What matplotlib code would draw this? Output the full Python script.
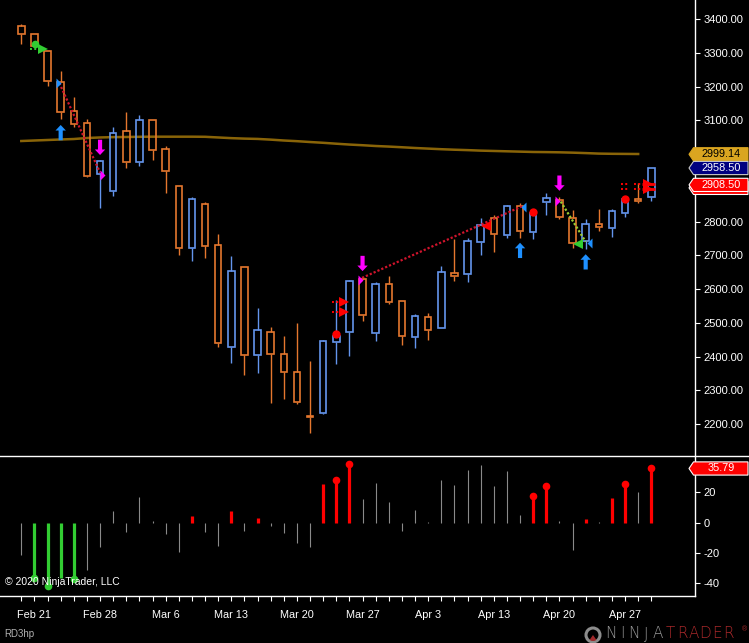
import matplotlib
matplotlib.use("Agg")
import matplotlib.pyplot as plt
from matplotlib.lines import Line2D
from matplotlib.patches import Polygon, Circle, Wedge
from matplotlib.transforms import IdentityTransform

W, H = 749, 643

plt.rcParams["font.family"] = ["Liberation Sans", "DejaVu Sans"]
plt.rcParams["axes.unicode_minus"] = False

# x labels (bar index -> label)
LABEL_BARS = [1, 6, 11, 16, 21, 26, 31, 36, 41, 46]
DATE_LABELS = ["Feb 21", "Feb 28", "Mar 6", "Mar 13", "Mar 20",
               "Mar 27", "Apr 3", "Apr 13", "Apr 20", "Apr 27"]

# price axis labels (2900 / 3000 sit under the price tags)
PRICE_TICKS = [2200, 2300, 2400, 2500, 2600, 2700, 2800, 3100, 3200, 3300, 3400]
OSC_TICKS = [-40, -20, 0, 20]

# daily OHLC, Feb 20 .. Apr 29 (49 sessions)
opens = [3378, 3355, 3304, 3212, 3127, 3091, 2940, 2891, 3067, 2977,
         3100, 3014, 2904, 2722, 2851, 2729, 2429, 2664, 2405, 2472,
         2406, 2353, 2223, 2234, 2444, 2473, 2630, 2469, 2614, 2564,
         2459, 2516, 2485, 2647, 2644, 2738, 2809, 2760, 2845, 2768,
         2859, 2863, 2809, 2743, 2792, 2780, 2824, 2868, 2873]
highs = [3384, 3357, 3304, 3246, 3169, 3104, 2982, 3080, 3124, 3116,
         3102, 3024, 2905, 2873, 2857, 2763, 2698, 2665, 2544, 2487,
         2461, 2499, 2387, 2449, 2567, 2626, 2635, 2620, 2639, 2565,
         2526, 2529, 2668, 2748, 2750, 2810, 2818, 2848, 2854, 2830,
         2884, 2873, 2833, 2807, 2837, 2836, 2870, 2913, 2960]
lows = [3327, 3316, 3202, 3105, 3079, 2932, 2841, 2876, 2959, 2965,
        2983, 2885, 2702, 2684, 2693, 2429, 2382, 2346, 2352, 2263,
        2275, 2259, 2174, 2230, 2379, 2402, 2506, 2447, 2556, 2435,
        2426, 2450, 2483, 2625, 2622, 2702, 2711, 2752, 2751, 2747,
        2820, 2806, 2721, 2719, 2773, 2755, 2814, 2854, 2862]
closes = [3355, 3320, 3215, 3125, 3088, 2936, 2978, 3061, 2977, 3100,
          3011, 2951, 2722, 2866, 2728, 2439, 2652, 2404, 2478, 2408,
          2355, 2266, 2220, 2445, 2461, 2623, 2522, 2614, 2562, 2460,
          2519, 2479, 2649, 2639, 2742, 2789, 2762, 2845, 2771, 2826,
          2869, 2812, 2735, 2792, 2783, 2830, 2866, 2862, 2958.5]

# 200-day SMA (drawn through bar 47)
sma = [3038.5, 3040, 3041.5, 3043, 3044.4, 3047.4, 3049, 3050, 3050.4, 3051,
       3051.3, 3051.3, 3051.3, 3051.3, 3051, 3049, 3047, 3045.6, 3044.7, 3042.6,
       3040, 3038, 3035.5, 3033.2, 3030.5, 3028, 3026, 3023.7, 3022, 3020,
       3017.8, 3016, 3014.2, 3012.7, 3011.5, 3010, 3009, 3008, 3007, 3006,
       3005.6, 3005, 3004, 3002.7, 3001.2, 3000.6, 3000.3, 3000]

# lower oscillator
osc = [-21.1, -36.3, -41.8, -36.3, -37, -31.2, -15.8, 7.7, -6.2, 17,
       1, -7.3, -19.1, 4.4, -6.2, -15.2, 7.7, -5.3, 3.1, -2.2,
       -6.6, -13.2, -15.8, 25.7, 28.4, 38.9, 15.6, 26.4, 13.7, -5.3,
       8.4, 0.3, 28.2, 25.1, 34.8, 38.1, 24.2, 34.1, 5.1, 17.8,
       24.4, 1, -18, 2.4, 0.5, 16.5, 25.7, 20.5, 35.79]
osc_red = [13, 16, 18, 23, 24, 25, 39, 40, 43, 45, 46, 48]
osc_green = [1, 2, 3, 4]
osc_dots = [1, 2, 4, 24, 25, 39, 40, 46, 48]

# signal markers (bar position, price)
up_arrows = [(3, 3086), (38, 2737), (43, 2703)]
down_arrows = [(6, 2997), (26, 2653), (41, 2891)]
small_right_blue = [(2.65, 3210)]
small_right_magenta = [(6.0, 2939), (25.66, 2628), (40.66, 2861)]
small_left_blue = [(38.07, 2843), (43.1, 2736)]
big_right_green = [(1.65, 3311)]
big_right_red = [(24.62, 2561), (24.62, 2532), (47.75, 2910), (47.75, 2897)]
big_left_red = [(35.41, 2788)]
big_left_green = [(42.41, 2734)]
red_dots = [(24, 2467), (39, 2828), (46, 2867)]
green_dots = [(1.02, 3327)]
stub_green = [(1, 3310)]
stub_red = [(24, 2561), (24, 2532), (46, 2910), (46, 2897), (47, 2910), (47, 2897)]
flag_red = [(48, 2910), (48, 2897)]
trend_red = [[(2.9, 3210), (6.0, 2945)], [(25.96, 2633), (38.2, 2846)]]
trend_green = [[(41.1, 2859), (43.0, 2740)]]

# right-hand price tags
tag_sma = 2999.14
tag_close = 2958.50
tag_stop = 2908.50
tag_osc = 35.79

BLUE = "#6495ED"
ORANGE = "#E5772E"
RED = "#FF0000"
MAGENTA = "#FF00FF"
ARROW_BLUE = "#1E90FF"
GREEN = "#32CD32"


def py(y):
    return 1 - y / H


def price_tag(fig, ydisp, text, face, tcolor, edge):
    h = 6.6
    verts = [(689, ydisp), (693.5, ydisp + h), (748, ydisp + h),
             (748, ydisp - h), (693.5, ydisp - h)]
    fig.add_artist(Polygon(verts, closed=True, transform=IdentityTransform(),
                           facecolor=face, edgecolor=edge, lw=0.8, zorder=5))
    if text:
        fig.text(721 / W, ydisp / H, text, ha="center", va="center",
                 color=tcolor, fontsize=7.8, zorder=6)


def main():
    fig = plt.figure(figsize=(W / 100, H / 100), dpi=100, facecolor="black")
    ax = fig.add_axes([0, py(456), 695 / W, 456 / H], facecolor="black")
    ax2 = fig.add_axes([0, py(596), 695 / W, 140 / H], facecolor="black")

    n = len(closes)
    for a in (ax, ax2):
        a.set_xlim(-1.623, 51.33)
        for s in a.spines.values():
            s.set_visible(False)
    ax.set_ylim(2105.2, 3456.3)
    ax2.set_ylim(-48.38, 44.03)

    # candles (hollow)
    for i in range(n):
        o, h, l, c = opens[i], highs[i], lows[i], closes[i]
        col = BLUE if c >= o else ORANGE
        top, bot = max(o, c), min(o, c)
        ax.bar(i, max(top - bot, 1.5), bottom=bot, width=0.5, fill=False,
               edgecolor=col, lw=1.2, zorder=2)
        if h > top:
            ax.vlines(i, top, h, color=col, lw=1.0, zorder=2)
        if l < bot:
            ax.vlines(i, l, bot, color=col, lw=1.0, zorder=2)

    ax.plot(range(len(sma)), sma, color="#B8860B", alpha=0.75, lw=1.8, zorder=1)

    # trend lines
    for seg in trend_red:
        ax.plot([p[0] for p in seg], [p[1] for p in seg], color="#D0142C",
                lw=1.6, ls=(0, (1, 0.9)), zorder=3)
    for seg in trend_green:
        ax.plot([p[0] for p in seg], [p[1] for p in seg], color="#9ACD32",
                lw=1.6, ls=(0, (1, 0.9)), zorder=3)

    # arrows
    aprops = dict(arrowstyle="simple,head_length=0.4,head_width=0.75,tail_width=0.3",
                  shrinkA=0, shrinkB=0, lw=0, mutation_scale=10)
    for b, p in up_arrows:
        ax.annotate("", xy=(b, p), xytext=(0, -11), textcoords="offset points",
                    arrowprops=dict(aprops, color=ARROW_BLUE), zorder=4)
    for b, p in down_arrows:
        ax.annotate("", xy=(b, p), xytext=(0, 11), textcoords="offset points",
                    arrowprops=dict(aprops, color=MAGENTA), zorder=4)

    # small half triangles
    right_small = [(0, -1), (0, 1), (1, 0), (0, -1)]
    left_small = [(0, 0), (1, 1), (1, -1), (0, 0)]
    for pts, m, col in [(small_right_blue, right_small, ARROW_BLUE),
                        (small_right_magenta, right_small, MAGENTA),
                        (small_left_blue, left_small, ARROW_BLUE)]:
        ax.plot([p[0] for p in pts], [p[1] for p in pts], ls="none", marker=m,
                ms=7.2, color=col, mec=col, mew=0, zorder=4)

    # stubs before signal triangles
    for pts, col in [(stub_green, GREEN), (stub_red, RED)]:
        for b, p in pts:
            ax.hlines(p, b - 0.3, b + 0.25, colors=col, lw=1.4,
                      linestyles=(0, (1, 1.2)), zorder=3)
    for b, p in flag_red:
        ax.hlines(p, b - 0.7, b + 0.3, colors=RED, lw=2.0, zorder=4)

    # big triangles
    for pts, m, col in [(big_right_green, ">", GREEN), (big_right_red, ">", RED),
                        (big_left_red, "<", RED), (big_left_green, "<", GREEN)]:
        ax.plot([p[0] for p in pts], [p[1] for p in pts], ls="none", marker=m,
                ms=7.5, color=col, mew=0, zorder=4)

    # dots
    ax.plot([p[0] for p in red_dots], [p[1] for p in red_dots], "o", ms=6,
            color=RED, mew=0, zorder=5)
    ax.plot([p[0] for p in green_dots], [p[1] for p in green_dots], "o", ms=5.5,
            color=GREEN, mew=0, zorder=5)

    # oscillator
    for i, v in enumerate(osc):
        if i in osc_red:
            ax2.vlines(i, 0, v, colors=RED, lw=2.3)
        elif i in osc_green:
            ax2.vlines(i, 0, v, colors=GREEN, lw=2.3)
        else:
            ax2.vlines(i, 0, v, colors="#8A8A8A", lw=0.8)
        if i in osc_dots:
            ax2.plot(i, v, "o", ms=5.5, mew=0,
                     color=GREEN if i in osc_green else RED)

    # axes ticks
    ax.yaxis.tick_right()
    ax.set_yticks(PRICE_TICKS)
    ax.set_yticklabels([f"{v:.2f}" for v in PRICE_TICKS])
    ax.set_xticks([])
    ax.tick_params(axis="y", colors="white", length=3.6, width=0.8, pad=2.5,
                   labelsize=8)

    ax2.yaxis.tick_right()
    ax2.set_yticks(OSC_TICKS)
    ax2.tick_params(axis="y", colors="white", length=3.6, width=0.8, pad=2.5,
                    labelsize=8)
    ax2.set_xticks(range(n))
    xl = [""] * n
    for b, lab in zip(LABEL_BARS, DATE_LABELS):
        xl[b] = lab
    ax2.set_xticklabels(xl)
    ax2.tick_params(axis="x", colors="white", length=3.8, width=0.8, pad=6,
                    labelsize=7.8)

    # frame lines
    fig.add_artist(Line2D([0, 1], [py(456), py(456)], transform=fig.transFigure,
                          color="white", lw=1))
    fig.add_artist(Line2D([0, 695 / W], [py(596), py(596)], transform=fig.transFigure,
                          color="white", lw=1))
    fig.add_artist(Line2D([695 / W, 695 / W], [py(596), 1], transform=fig.transFigure,
                          color="white", lw=1))

    # price tags
    yd = lambda a, v: a.transData.transform((0, v))[1]
    price_tag(fig, yd(ax, tag_sma), f"{tag_sma:.2f}", "#DAA520", "black", "#DAA520")
    price_tag(fig, yd(ax, tag_close), f"{tag_close:.2f}", "#000080", "white", "#C8C8C8")
    price_tag(fig, yd(ax, tag_stop) - 3, "", RED, "white", "white")
    price_tag(fig, yd(ax, tag_stop), f"{tag_stop:.2f}", RED, "white", "white")
    price_tag(fig, yd(ax2, tag_osc), f"{tag_osc:.2f}", RED, "white", "white")

    # captions
    fig.text(5 / W, py(582), "\u00a9 2020 NinjaTrader, LLC", color="white",
             fontsize=7.5, ha="left", va="center")
    fig.text(4 / W, py(634), "RD3hp", color="#B0B0B0", fontsize=7,
             ha="left", va="center")

    # logo
    fig.add_artist(Circle((593, H - 635), 7, transform=IdentityTransform(),
                          facecolor="none", edgecolor="#8C8C8C", lw=2.2))
    fig.add_artist(Wedge((593, H - 635), 6, 235, 305, transform=IdentityTransform(),
                         facecolor="#A0282A", edgecolor="none"))
    for k, ch in enumerate("NINJATRADER"):
        xc = 611 + k * 11.6 + (1.5 if k >= 5 else 0)
        fig.text(xc / W, py(634), ch, color="#9A9A9A" if k < 5 else "#A8282A",
                 fontsize=11, ha="center", va="center", family="DejaVu Sans",
                 fontweight="light")
    fig.text(745 / W, py(630), "\u00ae", color="#A8282A", fontsize=5,
             ha="center", va="center")

    fig.savefig("out.png", dpi=100, facecolor="black")
    plt.close(fig)


if __name__ == "__main__":
    main()
